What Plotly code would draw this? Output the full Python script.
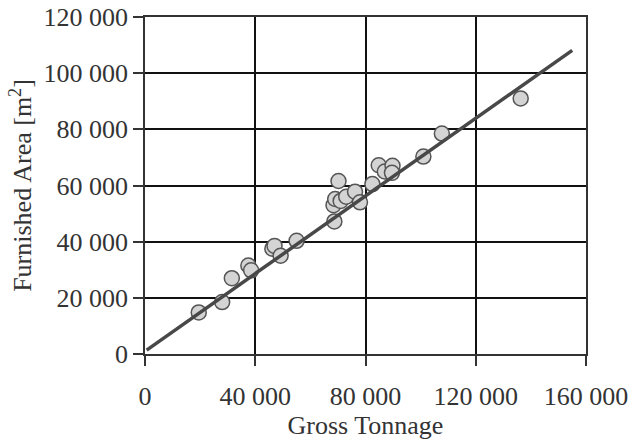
import plotly.graph_objects as go

gross_tonnage = [19500, 28000, 31500, 37500, 38500, 46200, 47000, 49200, 55000,
                 68700, 68400, 69000, 70200, 71000, 73000, 76200, 78000, 82500,
                 84800, 87000, 89800, 89600, 101000, 107700, 136300]
furnished_area = [14800, 18500, 27000, 31500, 29800, 37500, 38500, 35000, 40300,
                  47200, 53000, 55200, 61600, 54500, 56000, 57800, 54000, 60500,
                  67200, 65000, 67000, 64500, 70300, 78500, 91000]

trend_x = [600, 155000]
trend_y = [1400, 108100]

x_ticks = [0, 40000, 80000, 120000, 160000]
y_ticks = [0, 20000, 40000, 60000, 80000, 100000, 120000]

font = dict(family="Liberation Serif, Times New Roman, serif", size=26, color="#333333")

fig = go.Figure()
fig.add_trace(go.Scatter(
    x=gross_tonnage, y=furnished_area, mode="markers",
    marker=dict(size=15, color="#d4d4d4", line=dict(color="#555555", width=1.5)),
    showlegend=False))
fig.add_trace(go.Scatter(
    x=trend_x, y=trend_y, mode="lines",
    line=dict(color="#484848", width=3.5), showlegend=False))

axis_common = dict(
    showgrid=True, gridcolor="#111111", gridwidth=1.5,
    showline=True, linecolor="#333333", linewidth=1.5, mirror=True,
    ticks="outside", ticklen=10, tickwidth=1.5, tickcolor="#333333",
    tickformat=",d", tickfont=font, zeroline=False, automargin=False,
)

fig.update_xaxes(range=[0, 160000], tickvals=x_ticks, ticklabelstandoff=8,
                 title=dict(text="Gross Tonnage", font=font, standoff=4),
                 **axis_common)
fig.update_yaxes(range=[0, 120000], tickvals=y_ticks,
                 title=dict(text="Furnished Area [m<sup>2</sup>]", font=font, standoff=4),
                 **axis_common)

fig.update_layout(
    width=637, height=445,
    margin=dict(l=145, r=51, t=17, b=91),
    paper_bgcolor="white", plot_bgcolor="white",
    separators=". ",
    font=font,
)

fig.write_html("out.html")
